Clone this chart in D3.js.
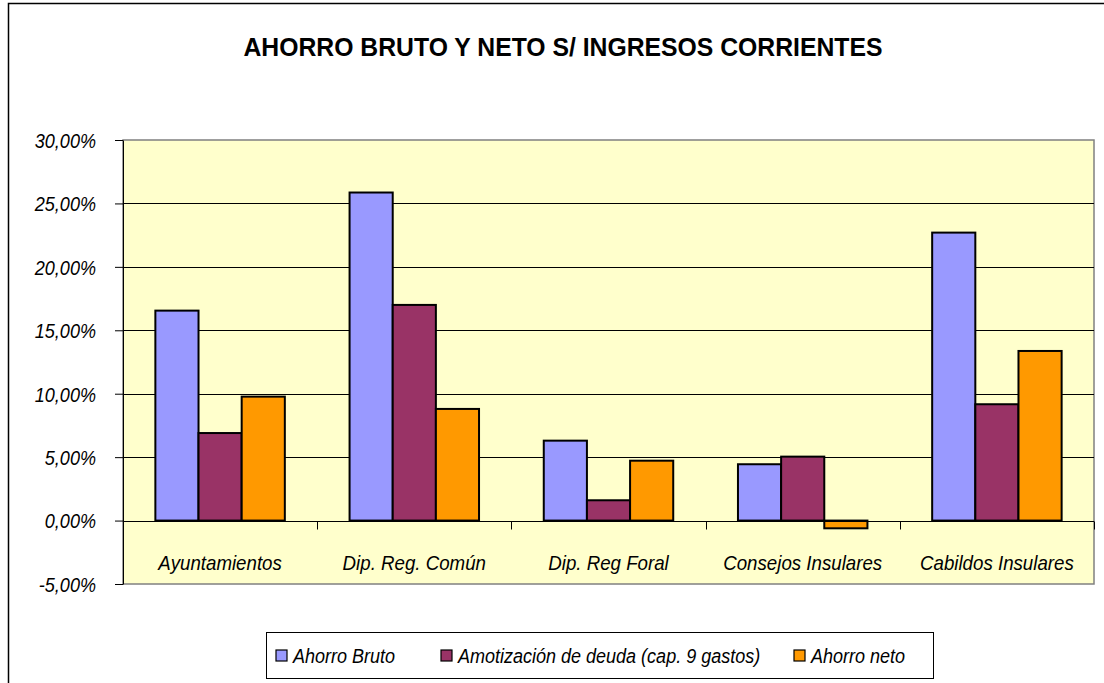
<!DOCTYPE html>
<html>
<head>
<meta charset="utf-8">
<title>Ahorro bruto y neto</title>
<script src="https://cdn.jsdelivr.net/npm/d3@7"></script>
<style>
  body { margin: 0; background: #fff; }
  text { font-family: "Liberation Sans Narrow", "Liberation Sans", Arial, sans-serif; }
</style>
</head>
<body>
<div id="chart"></div>
<script>
var categories = ["Ayuntamientos", "Dip. Reg. Común", "Dip. Reg Foral", "Consejos Insulares", "Cabildos Insulares"];
var seriesNames = ["Ahorro Bruto", "Amotización de deuda (cap. 9 gastos)", "Ahorro neto"];
var ahorroBruto = [16.55, 25.86, 6.30, 4.44, 22.70];
var amortizacion = [6.90, 17.00, 1.60, 5.04, 9.17];
var ahorroNeto = [9.77, 8.80, 4.72, -0.61, 13.37];
var yTicks = [-5, 0, 5, 10, 15, 20, 25, 30];
var colors = ["#9999FF", "#993366", "#FF9900"];

var W = 1104, H = 683;
var plot = { left: 123, right: 1094, top: 140, bottom: 584 };

// squeeze text horizontally to mimic a narrow font
function condense(sel, k) {
  sel.each(function () {
    var len = this.getComputedTextLength();
    d3.select(this).attr("textLength", len * k).attr("lengthAdjust", "spacingAndGlyphs");
  });
}

var svg = d3.select("#chart").append("svg")
    .attr("width", W).attr("height", H);

// outer chart border
svg.append("rect")
    .attr("x", 8.5).attr("y", 3.5)
    .attr("width", W + 10).attr("height", H + 10)
    .attr("fill", "#fff").attr("stroke", "#000").attr("stroke-width", 1.5);

svg.append("text")
    .attr("x", 563).attr("y", 56)
    .attr("text-anchor", "middle")
    .attr("font-size", 25).attr("font-weight", "bold")
    .text("AHORRO BRUTO Y NETO S/ INGRESOS CORRIENTES")
    .call(condense, 0.99);

var y = d3.scaleLinear().domain([-5, 30]).range([plot.bottom, plot.top]);
var x0 = d3.scaleBand().domain(categories).range([plot.left, plot.right]);
var bw = x0.bandwidth() / 4.5;
var x1 = d3.scaleBand().domain(seriesNames).range([0.75 * bw, 3.75 * bw]);

// plot area
svg.append("rect")
    .attr("x", plot.left).attr("y", plot.top)
    .attr("width", plot.right - plot.left).attr("height", plot.bottom - plot.top)
    .attr("fill", "#FFFFCC").attr("stroke", "#808080").attr("stroke-width", 1.5);

// gridlines
svg.append("g").selectAll("line")
    .data(yTicks.filter(function (d) { return d > -5 && d < 30; }))
    .enter().append("line")
    .attr("x1", plot.left).attr("x2", plot.right)
    .attr("y1", function (d) { return Math.round(y(d)) + 0.5; })
    .attr("y2", function (d) { return Math.round(y(d)) + 0.5; })
    .attr("stroke", "#000").attr("stroke-width", 1);

// y axis
var yAxis = d3.axisLeft(y).tickValues(yTicks).tickSize(8).tickSizeOuter(0)
    .tickFormat(function (d) { return d.toFixed(2).replace(".", ",") + "%"; });
var gy = svg.append("g").attr("transform", "translate(" + plot.left + ",0)").call(yAxis);
gy.select(".domain").attr("stroke", "#000");
gy.selectAll("text")
    .attr("font-size", 21).attr("font-style", "italic").attr("fill", "#000")
    .attr("x", -27).attr("dy", "0.35em")
    .attr("font-family", "\"Liberation Sans Narrow\", \"Liberation Sans\", Arial, sans-serif")
    .call(condense, 0.86);

// bars
var rows = categories.map(function (c, i) {
  return { cat: c, vals: [ahorroBruto[i], amortizacion[i], ahorroNeto[i]] };
});
var groups = svg.append("g").selectAll("g")
    .data(rows).enter().append("g")
    .attr("transform", function (d) { return "translate(" + x0(d.cat) + ",0)"; });
groups.selectAll("rect")
    .data(function (d) { return d.vals.map(function (v, j) { return { v: v, s: seriesNames[j], j: j }; }); })
    .enter().append("rect")
    .attr("x", function (d) { return x1(d.s); })
    .attr("width", x1.bandwidth())
    .attr("y", function (d) { return y(Math.max(0, d.v)); })
    .attr("height", function (d) { return Math.abs(y(d.v) - y(0)); })
    .attr("fill", function (d) { return colors[d.j]; })
    .attr("stroke", "#000").attr("stroke-width", 2);

// x axis at zero
var xAxisG = svg.append("g").attr("transform", "translate(0," + (Math.round(y(0)) + 0.5) + ")");
xAxisG.append("line").attr("x1", plot.left).attr("x2", plot.right)
    .attr("stroke", "#000").attr("stroke-width", 1);
xAxisG.selectAll("line.tick")
    .data(d3.range(categories.length + 1))
    .enter().append("line").attr("class", "tick")
    .attr("x1", function (i) { return Math.round(plot.left + i * x0.step()) + 0.5; })
    .attr("x2", function (i) { return Math.round(plot.left + i * x0.step()) + 0.5; })
    .attr("y1", 0).attr("y2", 8)
    .attr("stroke", "#000");
xAxisG.selectAll("text")
    .data(categories).enter().append("text")
    .attr("x", function (d) { return x0(d) + x0.bandwidth() / 2; })
    .attr("y", 48)
    .attr("text-anchor", "middle")
    .attr("font-size", 21).attr("font-style", "italic")
    .text(function (d) { return d; })
    .call(condense, 0.89);

// legend
var lg = svg.append("g");
lg.append("rect")
    .attr("x", 266.5).attr("y", 632.5).attr("width", 667).attr("height", 46)
    .attr("fill", "#fff").attr("stroke", "#000").attr("stroke-width", 1);
var legendX = [276, 441, 794];
seriesNames.forEach(function (s, i) {
  lg.append("rect")
      .attr("x", legendX[i]).attr("y", 650).attr("width", 11).attr("height", 11)
      .attr("fill", colors[i]).attr("stroke", "#000").attr("stroke-width", 1.2);
  lg.append("text")
      .attr("x", legendX[i] + 17).attr("y", 663)
      .attr("font-size", 20).attr("font-style", "italic")
      .text(s)
      .call(condense, 0.9);
});
</script>
</body>
</html>
